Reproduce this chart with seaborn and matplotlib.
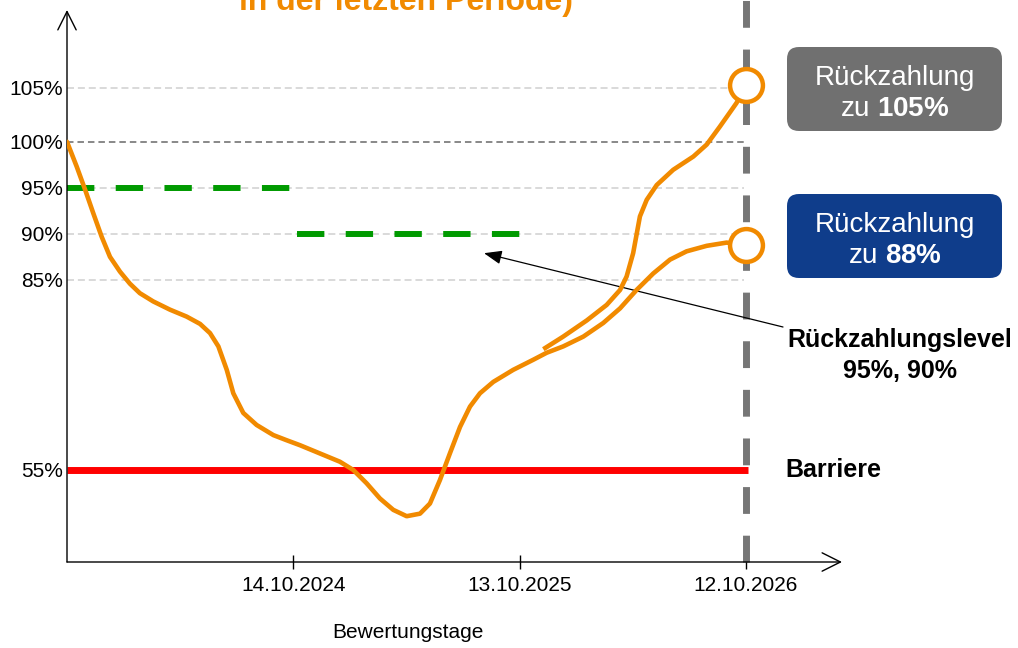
import numpy as np
import pandas as pd
import matplotlib
matplotlib.use("Agg")
import matplotlib.pyplot as plt
import seaborn as sns
from matplotlib.patches import FancyBboxPatch
from matplotlib.ticker import NullLocator

sns.set_theme(style="white")
plt.rcParams["font.family"] = ["Liberation Sans", "DejaVu Sans"]
plt.rcParams["mathtext.fontset"] = "custom"
plt.rcParams["mathtext.rm"] = "Liberation Sans"
plt.rcParams["mathtext.bf"] = "Liberation Sans:bold"

# ---------------- data ----------------
tick_years = [1, 2, 3]
tick_dates = ["14.10.2024", "13.10.2025", "12.10.2026"]
level_ticks = [55, 85, 90, 95, 100, 105]
level_labels = ["55%", "85%", "90%", "95%", "100%", "105%"]
grid_light = [85, 90, 95, 105]
grid_dark = [100]
barrier_level = 55
autocall_levels = [95, 90]
autocall_start = [0.0, 1.016]
autocall_end = [0.985, 2.006]
final_year = 3.0

path_t = [0.0, 0.043, 0.080, 0.116, 0.153, 0.190, 0.234, 0.278, 0.322, 0.381,
          0.455, 0.529, 0.588, 0.632, 0.669, 0.706, 0.735, 0.779, 0.838, 0.912,
          0.970, 1.030, 1.118, 1.206, 1.265, 1.324, 1.383, 1.442, 1.501, 1.560,
          1.604, 1.648, 1.692, 1.737, 1.781, 1.825, 1.884, 1.972, 2.061, 2.120,
          2.193, 2.282, 2.370, 2.444, 2.517, 2.591, 2.665, 2.738, 2.827, 2.915, 3.0]
path_v = [100.0, 97.3, 94.8, 92.25, 89.7, 87.5, 85.9, 84.4, 82.9, 81.6,
          80.3, 79.2, 78.05, 76.6, 74.5, 70.8, 67.1, 64.0, 62.1, 60.5,
          59.7, 58.9, 57.6, 56.3, 55.0, 52.9, 50.5, 48.7, 47.7, 48.1,
          49.7, 53.4, 57.6, 61.8, 65.0, 67.1, 68.9, 70.8, 72.4, 73.5,
          74.5, 76.05, 78.2, 80.5, 83.4, 85.7, 87.2, 88.1, 88.7, 89.05, 88.8]
up_t = [2.105, 2.193, 2.297, 2.385, 2.444, 2.473, 2.502, 2.532, 2.562, 2.606,
        2.679, 2.768, 2.827, 2.885, 2.959, 3.0]
up_v = [74.06, 76.05, 78.6, 81.05, 83.4, 85.36, 87.9, 91.9, 93.7, 95.3,
        96.96, 98.4, 99.7, 101.4, 103.6, 105.3]
final_values = [105.3, 88.8]

ORANGE = "#F18A00"
GREEN = "#009A00"
RED = "#FF0000"
VGREY = "#767676"

# schematic (non-linear) level axis: value -> pixel position from top
Y_KNOT_VAL = np.array([30, 55, 85, 90, 95, 100, 105, 125], dtype=float)
Y_KNOT_POS = np.array([628.3, 470, 280, 234, 188, 142, 88, -128], dtype=float)


def y_fwd(v):
    return -np.interp(v, Y_KNOT_VAL, Y_KNOT_POS)


def y_inv(u):
    return np.interp(u, -Y_KNOT_POS, Y_KNOT_VAL)


W, H = 1018, 648
fig = plt.figure(figsize=(W / 100, H / 100), dpi=100)
ax = fig.add_axes([67 / W, (H - 562) / H, (842 - 67) / W, (562 - 10) / H])
ax.set_yscale("function", functions=(y_fwd, y_inv))
ax.set_xlim(0, 3.425)
ax.set_ylim(40.47, 112.2)

for s in ax.spines.values():
    s.set_visible(False)

# grid lines
ax.hlines(grid_light, 0, 2.99, colors="#D9D9D9", lw=1.4, linestyles=[(0, (3.6, 2.0))], zorder=1)
ax.hlines(grid_dark, 0, 3.0, colors="#7F7F7F", lw=1.3, linestyles=[(0, (3.6, 2.2))], zorder=1)

# autocall levels (green dashes)
for lvl, a, b in zip(autocall_levels, autocall_start, autocall_end):
    ax.plot([a, b], [lvl, lvl], color=GREEN, lw=4.3, linestyle=(0, (4.58, 3.58)),
            solid_capstyle="butt", dash_capstyle="butt", zorder=2)

# barrier
ax.plot([0, 3.01], [barrier_level, barrier_level], color=RED, lw=5.0,
        solid_capstyle="butt", zorder=3)

# final observation vertical dashed line
ax.plot([final_year, final_year], [40.47, 125], color=VGREY, lw=5.0,
        linestyle=(0, (3.86, 3.14)), dash_capstyle="butt", clip_on=False, zorder=2)

# price paths
df_main = pd.DataFrame({"t": path_t, "v": path_v})
df_up = pd.DataFrame({"t": up_t, "v": up_v})
sns.lineplot(data=df_main, x="t", y="v", sort=False, color=ORANGE, lw=3.3, ax=ax,
             zorder=4, solid_joinstyle="round", solid_capstyle="round")
sns.lineplot(data=df_up, x="t", y="v", sort=False, color=ORANGE, lw=3.3, ax=ax,
             zorder=4, solid_joinstyle="round", solid_capstyle="butt")
sns.scatterplot(x=[final_year] * len(final_values), y=final_values, s=560, marker="o",
                color="white", edgecolor=ORANGE, linewidth=3.2, ax=ax, zorder=6, clip_on=False)

# axes arrows
ax.annotate("", xy=(0, 1), xytext=(0, 0), xycoords="axes fraction",
            arrowprops=dict(arrowstyle="->,head_length=1.1,head_width=0.55", lw=1.0,
                            color="black", shrinkA=0, shrinkB=0))
ax.annotate("", xy=(1, 0), xytext=(0, 0), xycoords="axes fraction",
            arrowprops=dict(arrowstyle="->,head_length=1.1,head_width=0.55", lw=1.0,
                            color="black", shrinkA=0, shrinkB=0))

# ticks
ax.set_xticks(tick_years)
ax.set_xticklabels(tick_dates)
ax.set_yticks(level_ticks)
ax.set_yticklabels(level_labels)
ax.yaxis.set_minor_locator(NullLocator())
ax.xaxis.set_minor_locator(NullLocator())
ax.tick_params(axis="x", direction="inout", length=10, width=1, color="black",
               bottom=True, labelsize=15, labelcolor="black", pad=5)
ax.tick_params(axis="y", left=True, length=0, labelsize=15, labelcolor="black", pad=3)
ax.set_xlabel("")
ax.set_ylabel("")

# x axis title
fig.text(408 / W, 1 - 633 / H, "Bewertungstage", ha="center", va="center", fontsize=15, color="black")

# cut-off heading (cropped in the original as well)
fig.text(406 / W, 1 - 10 / H, "in der letzten Periode)", ha="center", va="baseline",
         fontsize=23, fontweight="bold", color=ORANGE)

# boxes
for top, col, val in [(47, "#707070", "105%"), (194, "#0F3D8B", "88%")]:
    box = FancyBboxPatch((7.87, (H - top - 84) / 100), 2.15, 0.84,
                         boxstyle="round,pad=0,rounding_size=0.12",
                         transform=fig.dpi_scale_trans, facecolor=col, edgecolor="none")
    fig.add_artist(box)
    fig.text(895 / W, 1 - (top + 38) / H, "Rückzahlung", ha="center", va="baseline",
             fontsize=20, color="white")
    fig.text(895 / W, 1 - (top + 69) / H, "zu $\\mathbf{" + val.replace("%", "\\%") + "}$",
             ha="center", va="baseline", fontsize=20, color="white")

# right-hand labels
fig.text(900 / W, 1 - 347 / H, "Rückzahlungslevel", ha="center", va="baseline",
         fontsize=18, fontweight="bold", color="black")
fig.text(900 / W, 1 - 378 / H, "95%, 90%", ha="center", va="baseline",
         fontsize=18, fontweight="bold", color="black")
fig.text(785 / W, 1 - 477 / H, "Barriere", ha="left", va="baseline",
         fontsize=18, fontweight="bold", color="black")

# pointer arrow to the repayment levels
ax.annotate("", xy=(1.843, 87.9), xycoords="data",
            xytext=(783 / W, 1 - 327 / H), textcoords="figure fraction",
            arrowprops=dict(arrowstyle="-|>,head_length=0.9,head_width=0.35", lw=0.9,
                            color="black", shrinkA=0, shrinkB=0), annotation_clip=False)

fig.savefig("out.png", dpi=100)
